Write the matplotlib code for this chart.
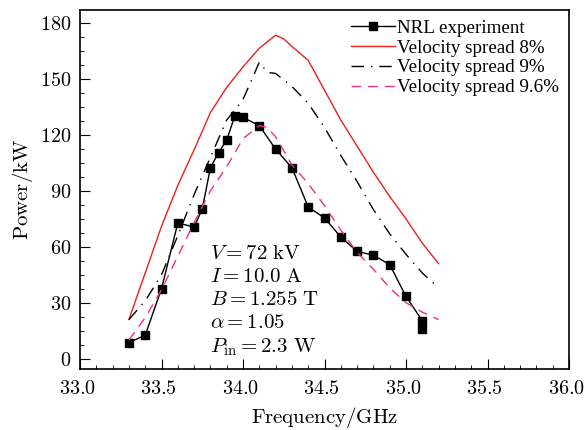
import numpy as np
import matplotlib
matplotlib.use("Agg")
from matplotlib import pyplot as plt
from matplotlib.ticker import MultipleLocator, FuncFormatter
from matplotlib.transforms import ScaledTranslation

plt.rcParams['mathtext.fontset'] = 'cm'
plt.rcParams['font.family'] = ['Liberation Serif', 'DejaVu Serif']

# NRL experiment
f_exp = [33.3, 33.4, 33.5, 33.6, 33.7, 33.75, 33.8, 33.85, 33.9, 33.95, 34.0, 34.1,
         34.2, 34.3, 34.4, 34.5, 34.6, 34.7, 34.8, 34.9, 35.0, 35.1, 35.1]
p_exp = [8.7, 12.6, 37.5, 72.8, 70.6, 80.3, 102.4, 110.5, 117.2, 130.3, 129.4, 125.0,
         112.4, 102.4, 81.4, 75.5, 65.3, 57.6, 55.5, 50.5, 33.4, 20.4, 15.8]

# velocity spread 8%
f_8 = [33.3, 33.4, 33.5, 33.6, 33.7, 33.8, 33.9, 34.0, 34.1, 34.2, 34.25, 34.3,
       34.4, 34.5, 34.6, 34.7, 34.8, 34.9, 35.0, 35.1, 35.2]
p_8 = [21, 46, 71, 93, 112, 132, 145.5, 156.5, 166.5, 173.5, 171.5, 167.5,
       160, 144, 128, 114, 100, 87, 75, 62, 51]

# velocity spread 9%
f_9 = [33.3, 33.4, 33.5, 33.6, 33.7, 33.8, 33.9, 34.0, 34.1, 34.15, 34.2, 34.3,
       34.4, 34.5, 34.6, 34.7, 34.8, 34.9, 35.0, 35.1, 35.2]
p_9 = [21, 31, 45, 66, 88, 108, 128, 139, 159, 153.5, 153, 146,
       137, 124, 109, 95, 80, 67, 56, 46, 38]

# velocity spread 9.6%
f_96 = [33.3, 33.4, 33.5, 33.6, 33.7, 33.8, 33.9, 34.0, 34.1, 34.15, 34.2, 34.3,
        34.4, 34.5, 34.6, 34.7, 34.8, 34.9, 35.0, 35.1, 35.2]
p_96 = [10, 22, 37, 55, 73, 90, 103, 118, 125, 124, 119, 104,
        94, 82, 69, 57, 48, 38, 30, 25, 21]

params = [r'$V = 72\ \mathrm{kV}$', r'$I = 10.0\ \mathrm{A}$', r'$B = 1.255\ \mathrm{T}$',
          r'$\alpha = 1.05$', r'$P_{\mathrm{in}} = 2.3\ \mathrm{W}$']

fig = plt.figure(figsize=(5.84, 4.30), dpi=100)
ax = fig.add_axes([80 / 584, 1 - 369 / 430, 489 / 584, 359 / 430])

ax.plot(f_exp, p_exp, color='black', lw=1.0, marker='s', markersize=6.3,
        label='NRL experiment')
ax.plot(f_8, p_8, color='#e8221c', lw=1.0, label='Velocity spread 8%')
ax.plot(f_9, p_9, color='black', lw=1.0, dashes=(9, 5, 1, 5),
        label='Velocity spread 9%')
ax.plot(f_96, p_96, color='#e8308a', lw=1.0, dashes=(7, 5),
        label='Velocity spread 9.6%')

for i, s in enumerate(params):
    ax.text(33.80, 56 - i * 12.4, s, fontsize=15, va='center', ha='left')

ax.set_xlim(33.0, 36.0)
ax.set_ylim(-5.5, 187)
ax.xaxis.set_major_locator(MultipleLocator(0.5))
ax.xaxis.set_minor_locator(MultipleLocator(0.1))
ax.yaxis.set_major_locator(MultipleLocator(30))
ax.yaxis.set_minor_locator(MultipleLocator(7.5))
ax.xaxis.set_major_formatter(FuncFormatter(lambda v, p: r'$%.1f$' % v))
ax.yaxis.set_major_formatter(FuncFormatter(lambda v, p: r'$%d$' % v))
ax.tick_params(which='both', direction='in', top=False, right=False, labelsize=14.5)
ax.tick_params(which='major', length=7)
ax.tick_params(axis='x', which='major', pad=8)
ax.tick_params(axis='y', which='major', pad=6)
ax.tick_params(which='minor', length=3)
for sp in ax.spines.values():
    sp.set_linewidth(1.2)

# tick labels sit a little left of their ticks in the original
shift = ScaledTranslation(-3 / 100, 0, fig.dpi_scale_trans)
for lab in ax.get_xticklabels():
    lab.set_transform(lab.get_transform() + shift)

ax.set_xlabel(r'$\mathrm{Frequency/GHz}$', fontsize=15, labelpad=4)
ax.set_ylabel(r'$\mathrm{Power/kW}$', fontsize=15, labelpad=4)

leg = ax.legend(loc='upper right', fontsize=13.7, frameon=False,
                borderaxespad=0, handlelength=2.3, labelspacing=0.13,
                borderpad=0.5, handletextpad=0.15)

plt.savefig('out.png', dpi=100)
